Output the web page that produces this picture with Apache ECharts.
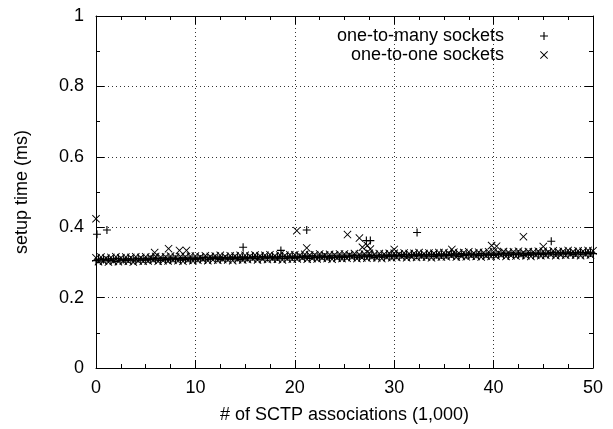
<!DOCTYPE html>
<html>
<head>
<meta charset="utf-8">
<script src="https://cdn.jsdelivr.net/npm/echarts@6/dist/echarts.min.js"></script>
<style>
html,body{margin:0;padding:0;background:#fff;}
#chart{width:613px;height:429px;}
</style>
</head>
<body>
<div id="chart"></div>
<script>
// ---- data ----
var xTicks = [0, 10, 20, 30, 40, 50];
var yTicks = [0, 0.2, 0.4, 0.6, 0.8, 1];
var seriesNames = ['one-to-many sockets', 'one-to-one sockets'];

// # of associations (1,000) for the dense band samples
var bandX = [
 0,0.5,1,1.5,2,2.5,3,3.5,4,4.5,5,5.5,6,6.5,7,7.5,8,8.5,9,9.5,
 10,10.5,11,11.5,12,12.5,13,13.5,14,14.5,15,15.5,16,16.5,17,17.5,18,18.5,19,19.5,
 20,20.5,21,21.5,22,22.5,23,23.5,24,24.5,25,25.5,26,26.5,27,27.5,28,28.5,29,29.5,
 30,30.5,31,31.5,32,32.5,33,33.5,34,34.5,35,35.5,36,36.5,37,37.5,38,38.5,39,39.5,
 40,40.5,41,41.5,42,42.5,43,43.5,44,44.5,45,45.5,46,46.5,47,47.5,48,48.5,49,49.5,50
];
var bandX2 = [
 0.25,0.75,1.25,1.75,2.25,2.75,3.25,3.75,4.25,4.75,5.25,5.75,6.25,6.75,7.25,7.75,8.25,8.75,9.25,9.75,
 10.25,10.75,11.25,11.75,12.25,12.75,13.25,13.75,14.25,14.75,15.25,15.75,16.25,16.75,17.25,17.75,18.25,18.75,19.25,19.75,
 20.25,20.75,21.25,21.75,22.25,22.75,23.25,23.75,24.25,24.75,25.25,25.75,26.25,26.75,27.25,27.75,28.25,28.75,29.25,29.75,
 30.25,30.75,31.25,31.75,32.25,32.75,33.25,33.75,34.25,34.75,35.25,35.75,36.25,36.75,37.25,37.75,38.25,38.75,39.25,39.75,
 40.25,40.75,41.25,41.75,42.25,42.75,43.25,43.75,44.25,44.75,45.25,45.75,46.25,46.75,47.25,47.75,48.25,48.75,49.25,49.75
];

// one-to-many sockets, setup time (ms) in the dense band
var manyY = [
 0.305,0.304,0.306,0.305,0.303,0.306,0.305,0.307,0.304,0.306,
 0.306,0.308,0.307,0.305,0.308,0.307,0.309,0.306,0.308,0.307,
 0.308,0.310,0.307,0.309,0.311,0.308,0.310,0.309,0.311,0.308,
 0.310,0.312,0.311,0.309,0.312,0.313,0.310,0.312,0.311,0.313,
 0.312,0.314,0.313,0.311,0.314,0.313,0.315,0.312,0.314,0.313,
 0.314,0.316,0.315,0.313,0.316,0.317,0.314,0.316,0.315,0.317,
 0.316,0.318,0.317,0.315,0.318,0.319,0.316,0.318,0.317,0.319,
 0.318,0.320,0.319,0.317,0.320,0.321,0.318,0.320,0.319,0.321,
 0.320,0.322,0.321,0.319,0.322,0.323,0.320,0.322,0.321,0.323,
 0.322,0.324,0.323,0.321,0.324,0.325,0.322,0.324,0.323,0.325,
 0.325
];
var manyY2 = [
 0.309,0.308,0.310,0.309,0.311,0.308,0.310,0.309,0.311,0.310,
 0.310,0.312,0.311,0.313,0.310,0.312,0.311,0.313,0.312,0.311,
 0.312,0.314,0.313,0.315,0.312,0.314,0.313,0.315,0.314,0.313,
 0.314,0.316,0.315,0.317,0.314,0.316,0.315,0.317,0.316,0.315,
 0.316,0.318,0.317,0.319,0.316,0.318,0.317,0.319,0.318,0.317,
 0.318,0.320,0.319,0.321,0.318,0.320,0.319,0.321,0.320,0.319,
 0.320,0.322,0.321,0.323,0.320,0.322,0.321,0.323,0.322,0.321,
 0.322,0.324,0.323,0.325,0.322,0.324,0.323,0.325,0.324,0.323,
 0.324,0.326,0.325,0.327,0.324,0.326,0.325,0.327,0.326,0.325,
 0.326,0.328,0.327,0.329,0.326,0.328,0.327,0.329,0.328,0.327
];

// one-to-one sockets, setup time (ms) in the dense band
var oneY = [
 0.313,0.315,0.312,0.314,0.316,0.313,0.315,0.314,0.316,0.314,
 0.316,0.314,0.317,0.315,0.316,0.318,0.315,0.317,0.316,0.318,
 0.318,0.316,0.319,0.317,0.318,0.320,0.317,0.319,0.318,0.320,
 0.320,0.318,0.321,0.319,0.320,0.322,0.319,0.321,0.320,0.322,
 0.322,0.320,0.323,0.321,0.322,0.324,0.321,0.323,0.322,0.324,
 0.324,0.322,0.325,0.323,0.324,0.326,0.323,0.325,0.324,0.326,
 0.326,0.324,0.327,0.325,0.326,0.328,0.325,0.327,0.326,0.328,
 0.328,0.326,0.329,0.327,0.328,0.330,0.327,0.329,0.328,0.330,
 0.330,0.328,0.331,0.329,0.330,0.332,0.329,0.331,0.330,0.332,
 0.332,0.330,0.333,0.331,0.332,0.334,0.331,0.333,0.332,0.334,
 0.333
];
var oneY2 = [
 0.302,0.304,0.301,0.303,0.302,0.304,0.303,0.301,0.304,0.303,
 0.304,0.306,0.303,0.305,0.304,0.306,0.305,0.303,0.306,0.305,
 0.306,0.308,0.305,0.307,0.306,0.308,0.307,0.305,0.308,0.307,
 0.308,0.310,0.307,0.309,0.308,0.310,0.309,0.307,0.310,0.309,
 0.310,0.312,0.309,0.311,0.310,0.312,0.311,0.309,0.312,0.311,
 0.312,0.314,0.311,0.313,0.312,0.314,0.313,0.311,0.314,0.313,
 0.314,0.316,0.313,0.315,0.314,0.316,0.315,0.313,0.316,0.315,
 0.316,0.318,0.315,0.317,0.316,0.318,0.317,0.315,0.318,0.317,
 0.318,0.320,0.317,0.319,0.318,0.320,0.319,0.317,0.320,0.319,
 0.320,0.322,0.319,0.321,0.320,0.322,0.321,0.319,0.322,0.321
];

// outliers
var manyOutX = [0.1, 1.1, 14.8, 18.6, 21.2, 27.2, 27.6, 32.3, 45.8];
var manyOutY = [0.380, 0.392, 0.343, 0.334, 0.392, 0.362, 0.362, 0.385, 0.360];
var oneOutX = [0.0, 5.9, 7.3, 8.4, 9.1, 20.2, 21.2, 25.3, 26.5, 26.8, 27.3, 27.6, 30.0, 35.8, 39.8, 40.3, 43.0, 45.0];
var oneOutY = [0.424, 0.328, 0.339, 0.334, 0.334, 0.390, 0.341, 0.379, 0.369, 0.343, 0.348, 0.338, 0.337, 0.337, 0.348, 0.346, 0.373, 0.345];

// ---- build ----
function pairs(xa, ya) { var r = []; for (var i = 0; i < xa.length; i++) r.push([xa[i], ya[i]]); return r; }
var manyData = pairs(bandX, manyY).concat(pairs(bandX2, manyY2), pairs(manyOutX, manyOutY));
var oneData = pairs(bandX, oneY).concat(pairs(bandX2, oneY2), pairs(oneOutX, oneOutY));

var PLUS = 'path://M4.3,0H5.7V4.3H10V5.7H5.7V10H4.3V5.7H0V4.3H4.3Z';
var CROSS = 'path://M0.8,0L5,4.2L9.2,0L10,0.8L5.8,5L10,9.2L9.2,10L5,5.8L0.8,10L0,9.2L4.2,5L0,0.8Z';
var FONT = "'Liberation Sans', Arial, Helvetica, sans-serif";

var tickInterval = xTicks[1] - xTicks[0];
var yInterval = yTicks[1] - yTicks[0];

function xAxisCfg(pos, main) {
  return {
    type: 'value', position: pos, min: xTicks[0], max: xTicks[xTicks.length - 1], interval: tickInterval,
    axisLine: { show: true, onZero: false, lineStyle: { color: '#000', width: 1 } },
    axisTick: { show: true, inside: true, length: 8, lineStyle: { color: '#000' } },
    minorTick: { show: true, splitNumber: 4, length: 4, lineStyle: { color: '#000' } },
    axisLabel: { show: main, color: '#000', fontSize: 18, fontFamily: FONT, margin: 11 },
    splitLine: { show: main, lineStyle: { color: '#333', type: [1, 3], width: 1 } },
    name: main ? '# of SCTP associations (1,000)' : '',
    nameLocation: 'middle', nameGap: 38,
    nameTextStyle: { color: '#000', fontSize: 18, fontFamily: FONT }
  };
}
function yAxisCfg(pos, main) {
  return {
    type: 'value', position: pos, min: yTicks[0], max: yTicks[yTicks.length - 1], interval: yInterval,
    axisLine: { show: true, onZero: false, lineStyle: { color: '#000', width: 1 } },
    axisTick: { show: true, inside: true, length: 8, lineStyle: { color: '#000' } },
    minorTick: { show: true, splitNumber: 2, length: 4, lineStyle: { color: '#000' } },
    axisLabel: { show: main, color: '#000', fontSize: 18, fontFamily: FONT, margin: 12 },
    splitLine: { show: main, lineStyle: { color: '#333', type: [1, 3], width: 1 } },
    name: main ? 'setup time (ms)' : '',
    nameLocation: 'middle', nameGap: 65,
    nameTextStyle: { color: '#000', fontSize: 18, fontFamily: FONT }
  };
}

var chart = echarts.init(document.getElementById('chart'), null, { renderer: 'canvas' });
chart.setOption({
  animation: false,
  backgroundColor: '#fff',
  grid: { left: 96, right: 20, top: 16, bottom: 56, containLabel: false },
  xAxis: [xAxisCfg('bottom', true), xAxisCfg('top', false)],
  yAxis: [yAxisCfg('left', true), yAxisCfg('right', false)],
  legend: {
    orient: 'vertical', right: 60, top: 22, align: 'right',
    itemWidth: 70, itemHeight: 8, itemGap: 1,
    textStyle: { color: '#000', fontSize: 18, fontFamily: FONT },
    data: [
      { name: seriesNames[0], icon: PLUS },
      { name: seriesNames[1], icon: CROSS }
    ]
  },
  series: [
    { name: seriesNames[0], type: 'scatter', xAxisIndex: 0, yAxisIndex: 0, symbol: PLUS, symbolSize: 8,
      itemStyle: { color: '#000', opacity: 1 }, data: manyData },
    { name: seriesNames[1], type: 'scatter', xAxisIndex: 0, yAxisIndex: 0, symbol: CROSS, symbolSize: 8,
      itemStyle: { color: '#000', opacity: 1 }, data: oneData }
  ]
});
</script>
</body>
</html>
